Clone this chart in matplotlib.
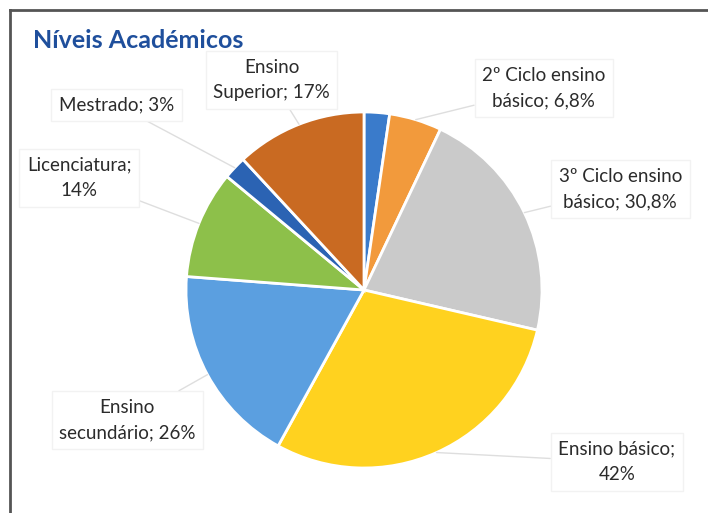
import matplotlib
matplotlib.use("Agg")
import matplotlib.pyplot as plt
from matplotlib.lines import Line2D
import numpy as np

# Academic levels (first slice has no data label)
categories = ["1º Ciclo ensino básico", "2º Ciclo ensino básico", "3º Ciclo ensino básico",
              "Ensino básico", "Ensino secundário", "Licenciatura", "Mestrado", "Ensino Superior"]
values = [3.3, 6.8, 30.8, 42, 26, 14, 3, 17]
label_texts = [None, "2º Ciclo ensino\nbásico; 6,8%", "3º Ciclo ensino\nbásico; 30,8%",
               "Ensino básico;\n42%", "Ensino\nsecundário; 26%", "Licenciatura;\n14%",
               "Mestrado; 3%", "Ensino\nSuperior; 17%"]
colors = ["#3A7BCB", "#F29A3C", "#CACACA", "#FFD21F", "#5B9FE0", "#8DC04A", "#2B63B3", "#C96A22"]

# where each label box sits, in pie units (radius = 1)
label_pos = [None, (1.01, 1.135), (1.44, 0.567), (1.42, -0.966), (-1.33, -0.73),
             (-1.60, 0.63), (-1.39, 1.04), (-0.52, 1.18)]

W, H = 708, 513
fig = plt.figure(figsize=(W / 100, H / 100), dpi=100)
fig.patch.set_facecolor("white")

cx, cy, r = 364, 290, 178
ax = fig.add_axes([(cx - r) / W, (H - cy - r) / H, 2 * r / W, 2 * r / H])

wedges, _ = ax.pie(values, colors=colors, startangle=90, counterclock=False, radius=1,
                   wedgeprops=dict(edgecolor="white", linewidth=2))
ax.set_xlim(-1, 1)
ax.set_ylim(-1, 1)
ax.set_aspect("equal")
ax.axis("off")

font = "Lato"
for w, txt, pos in zip(wedges, label_texts, label_pos):
    if txt is None:
        continue
    mid = np.deg2rad((w.theta1 + w.theta2) / 2)
    edge = (np.cos(mid), np.sin(mid))
    ax.annotate(txt, xy=edge, xytext=pos, ha="center", va="center",
                fontsize=13.5, family=font, color="#2b2b2b", linespacing=1.6,
                annotation_clip=False,
                bbox=dict(boxstyle="square,pad=0.4", fc="white", ec="#f2f2f2", lw=1),
                arrowprops=dict(arrowstyle="-", color="#dedede", lw=1,
                                shrinkA=0, shrinkB=0))

fig.text(33 / W, 1 - 40 / H, "Níveis Académicos", family=font, fontweight="bold",
         fontsize=18, color="#1F4F9C", va="center", ha="left")

# chart border (top and left edges visible)
fig.add_artist(Line2D([10 / W, 1.0], [1 - 10 / H, 1 - 10 / H], color="#555555", lw=2))
fig.add_artist(Line2D([10 / W, 10 / W], [0, 1 - 10 / H], color="#555555", lw=2))

fig.savefig("out.png", dpi=100)
